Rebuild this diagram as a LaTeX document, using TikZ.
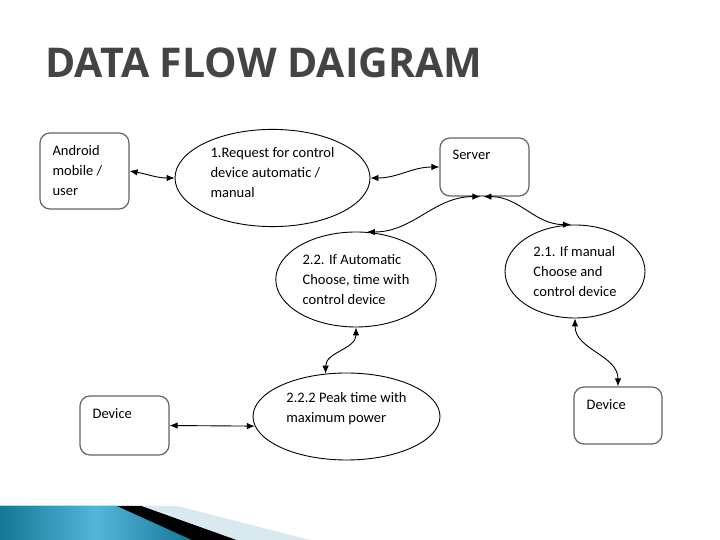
\documentclass[tikz,border=0pt]{standalone}
\usepackage{fontspec}
\setmainfont{Carlito}
\newfontfamily\titlefont{Open Sans}
\usetikzlibrary{shapes.geometric, arrows.meta, positioning}
\definecolor{dfgray}{RGB}{68,68,68}
\definecolor{dfedge}{RGB}{100,100,100}
\definecolor{dfteal}{RGB}{22,118,150}
\definecolor{dfsky}{RGB}{85,182,216}
\definecolor{dfpale}{RGB}{216,234,240}

\begin{document}
\begin{tikzpicture}[x=1pt, y=1pt,
      box/.style={rectangle, rounded corners=10pt, draw=dfedge, line width=1.2pt,
        minimum width=89pt, minimum height=58pt},
      boxtext/.style={anchor=north west, inner xsep=13pt, inner ysep=12.5pt,
        align=left, font=\fontsize{14.5}{20}\selectfont},
      process/.style={ellipse, draw, line width=0.9pt, align=left,
        font=\fontsize{14.5}{20}\selectfont},
      arrow/.style={<->, >={Latex[length=8pt,width=6.5pt]}, line width=0.9pt}
    ]
      \useasboundingbox (0,0) rectangle (720,540);

      % Title
      \node[anchor=base west, inner sep=0, text=dfgray,
        font=\titlefont\bfseries\fontsize{41}{50}\selectfont] (title) at (45,462) {DATA FLOW DAIGRAM};

      % External entities
      \node[box, minimum height=76pt, label={[boxtext]north west:Android\\mobile /\\user}] (android) at (84.5,369) {};
      \node[box, label={[boxtext]north west:Server}] (server) at (484.5,373) {};
      \node[box, minimum height=59pt, label={[boxtext]north west:Device}] (devleft) at (124.5,114.5) {};
      \node[box, minimum width=88pt, minimum height=57pt, label={[boxtext]north west:Device}] (devright) at (618,124.5) {};

      % Processes
      \node[process, minimum width=195pt, minimum height=80pt, text depth=12pt] (request) at (272.5,362) {1.Request for control\\device automatic /\\manual};
      \node[process, minimum width=158pt, minimum height=95pt] (automatic) at (356,260.5) {2.2. If Automatic\\Choose, time with\\control device};
      \node[process, minimum width=140pt, minimum height=93pt] (manual) at (575,268.5) {2.1. If manual\\Choose and\\control device};
      \node[process, minimum width=187pt, minimum height=87pt, text depth=19pt] (peak) at (346.5,123.5) {2.2.2 Peak time with\\maximum power};

      % Data flows
      \draw[arrow] (android.east) to[out=-10,in=180] (request.west);
      \draw[arrow] (request.east) to[out=0,in=180] (server.west);
      \draw[arrow] (automatic.77) to[out=0,in=180] (server.262);
      \draw[arrow] (server.268) to[out=0,in=180] (manual.95);
      \draw[arrow] (manual.south) to[out=-90,in=90] (devright.north);
      \draw[arrow] (automatic.south) to[out=-90,in=90] (peak.116);
      \draw[arrow] (devleft.east) -- (peak.186);

      % Footer band
      \fill[left color=dfteal, right color=dfteal, middle color=dfsky] (0,0) -- (0,34) -- (117,34) -- (192,0) -- cycle;
      \fill[black] (117,34) -- (142,34) -- (237,0) -- (192,0) -- cycle;
      \fill[dfpale] (142,34) -- (178,34) -- (310,0) -- (237,0) -- cycle;
    \end{tikzpicture}
\end{document}
